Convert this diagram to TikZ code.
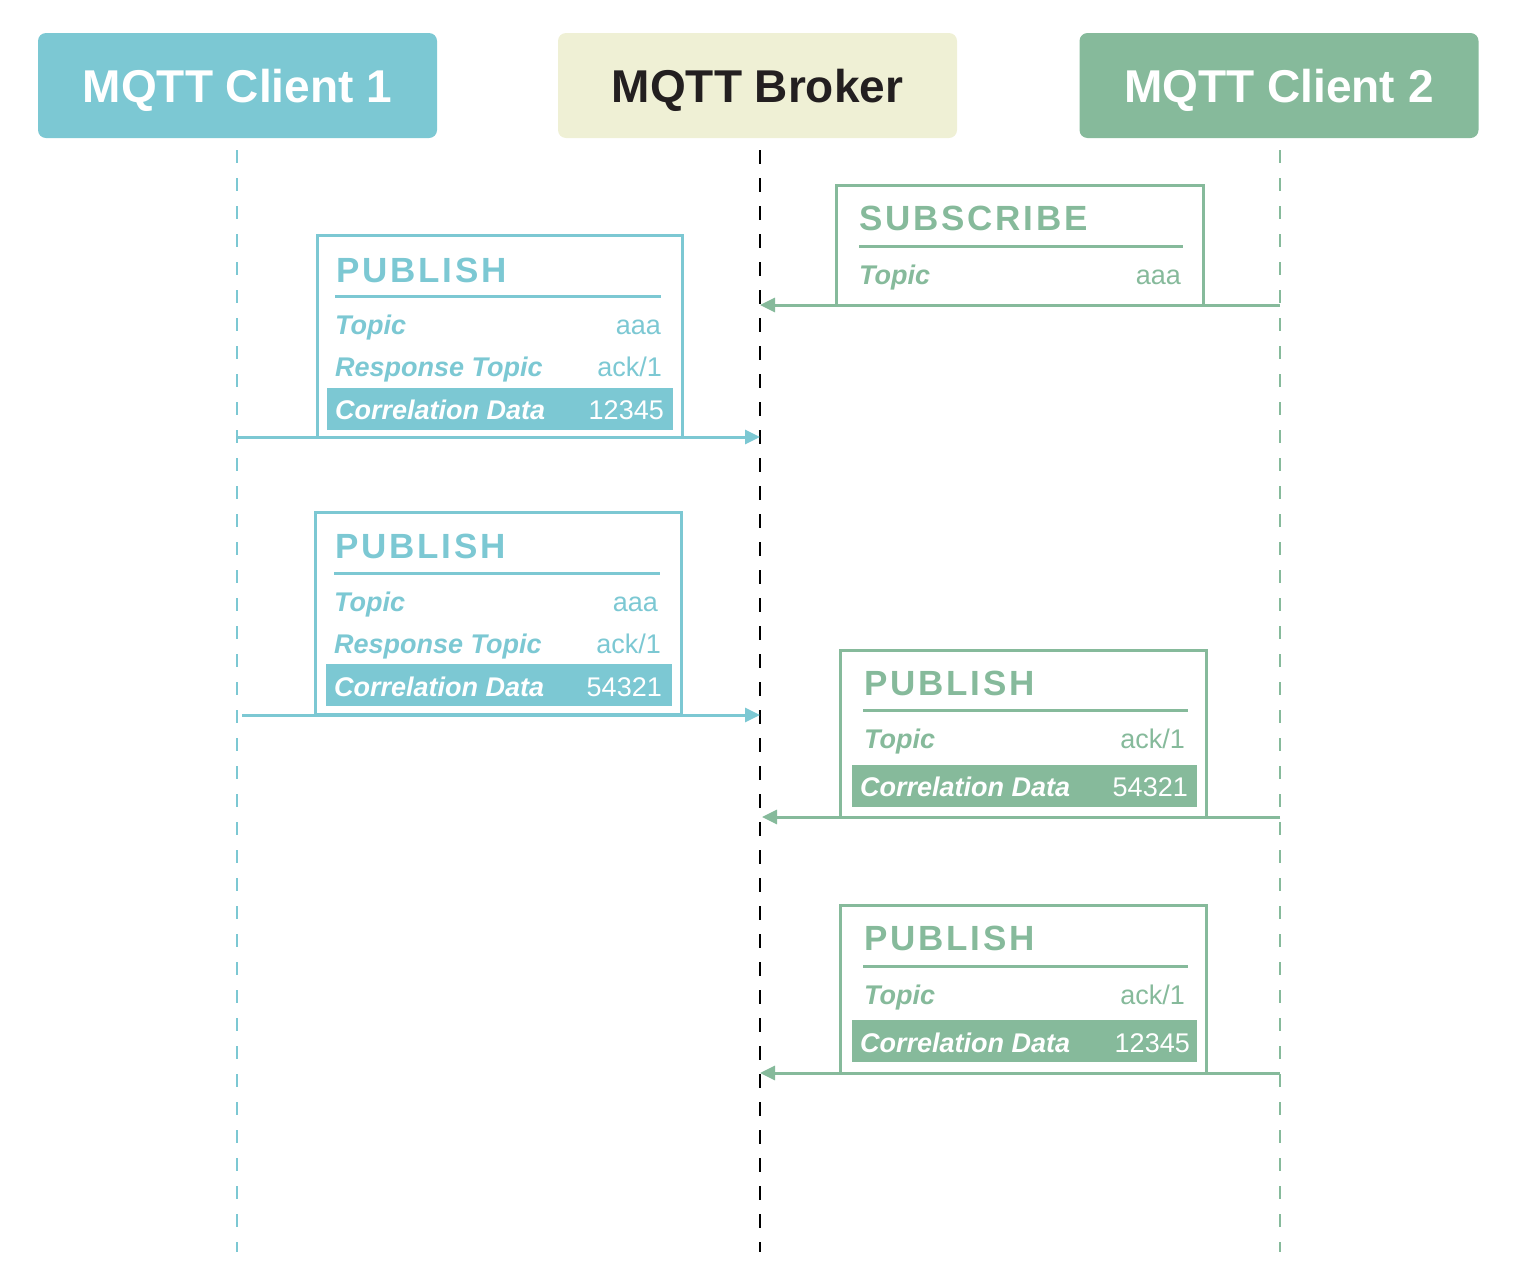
\documentclass[tikz,border=0pt]{standalone}
\usepackage{fontspec}
\setmainfont{Liberation Sans}
\newfontfamily\spacedfont[LetterSpace=8]{Liberation Sans}
\usetikzlibrary{positioning,arrows.meta}

\definecolor{clientone}{HTML}{7CC8D3}
\definecolor{clienttwo}{HTML}{86BA9B}
\definecolor{brokerfill}{HTML}{EFF0D5}
\definecolor{brokertext}{HTML}{231F20}

\tikzset{
  header/.style={rounded corners=8pt, minimum width=399pt, minimum height=105pt,
    inner sep=0pt, text height=33pt, text depth=-6pt, text=white,
    font=\fontsize{46}{50}\selectfont\bfseries},
  lifeline/.style={line width=2pt, dash pattern=on 13pt off 15pt},
  msgbox/.style={draw, line width=3pt},
  msgtitle/.style={anchor=base west, inner sep=0pt, font=\spacedfont\fontsize{35}{40}\selectfont\bfseries},
  field/.style={anchor=base west, inner sep=0pt, font=\fontsize{27}{30}\selectfont\bfseries\itshape},
  value/.style={anchor=base east, inner sep=0pt, font=\fontsize{27}{30}\selectfont},
  msg/.style={line width=3pt, -{Triangle[length=15pt,width=14pt]}},
}

\begin{document}
\begin{tikzpicture}[x=1pt, y=-1pt]
    \useasboundingbox (0,0) rectangle (1520,1275);

    % participants
    \node[header, fill=clientone] (c1) at (237.5,85.5) {MQTT Client 1};
    \node[header, fill=brokerfill, text=brokertext] (br) at (757.5,85.5) {MQTT Broker};
    \node[header, fill=clienttwo] (c2) at (1279,85.5) {MQTT Client 2};

    \coordinate (c1end) at (237,1252);
    \coordinate (brend) at (760,1252);
    \coordinate (c2end) at (1280,1252);
    \draw[lifeline, clientone] (237,150) -- (c1end);
    \draw[lifeline, clienttwo] (1280,150) -- (c2end);
    \draw[line width=2.5pt, dash pattern=on 14pt off 14pt] (760,150) -- (brend);

    % subscribe
    \node[msgbox, clienttwo, minimum width=367pt, minimum height=120pt] (sub) at (1019.5,245) {};
    \node[msgtitle, text=clienttwo] (subtitle) at (859,230) {SUBSCRIBE};
    \draw[clienttwo, line width=3pt] (859,246) -- (1183,246);
    \node[field, text=clienttwo] (subtopic) at (859,284) {Topic};
    \node[value, text=clienttwo] (subtopicv) at (1181,284) {aaa};
    \coordinate (c2a) at (1280,305);
    \coordinate (bra) at (760,305);
    \draw[msg, clienttwo] (c2a) -- (bra);

    % first request
    \node[msgbox, clientone, minimum width=365pt, minimum height=202pt] (pub1) at (499.5,336) {};
    \node[msgtitle, text=clientone] (pub1title) at (336,282) {PUBLISH};
    \draw[clientone, line width=3pt] (335,296) -- (661,296);
    \node[field, text=clientone] (pub1topic) at (335,334) {Topic};
    \node[value, text=clientone] (pub1topicv) at (661,334) {aaa};
    \node[field, text=clientone] (pub1resp) at (335,376) {Response Topic};
    \node[value, text=clientone] (pub1respv) at (662,376) {ack/1};
    \fill[clientone] (327,388) rectangle (673,430);
    \node[field, text=white] (pub1corr) at (335,419) {Correlation Data};
    \node[value, text=white] (pub1corrv) at (664,419) {12345};
    \coordinate (c1b) at (237,437);
    \coordinate (brb) at (760,437);
    \draw[msg, clientone] (c1b) -- (brb);

    % second request
    \node[msgbox, clientone, minimum width=366pt, minimum height=202pt] (pub2) at (498,613) {};
    \node[msgtitle, text=clientone] (pub2title) at (335,558) {PUBLISH};
    \draw[clientone, line width=3pt] (334,573) -- (660,573);
    \node[field, text=clientone] (pub2topic) at (334,611) {Topic};
    \node[value, text=clientone] (pub2topicv) at (658,611) {aaa};
    \node[field, text=clientone] (pub2resp) at (334,653) {Response Topic};
    \node[value, text=clientone] (pub2respv) at (661,653) {ack/1};
    \fill[clientone] (326,664) rectangle (672,706);
    \node[field, text=white] (pub2corr) at (334,696) {Correlation Data};
    \node[value, text=white] (pub2corrv) at (662,696) {54321};
    \coordinate (c1c) at (242,715);
    \coordinate (brc) at (760,715);
    \draw[msg, clientone] (c1c) -- (brc);

    % first response
    \node[msgbox, clienttwo, minimum width=366pt, minimum height=167pt] (pub3) at (1023,733.5) {};
    \node[msgtitle, text=clienttwo] (pub3title) at (864,695) {PUBLISH};
    \draw[clienttwo, line width=3pt] (863,710) -- (1188,710);
    \node[field, text=clienttwo] (pub3topic) at (864,748) {Topic};
    \node[value, text=clienttwo] (pub3topicv) at (1185,748) {ack/1};
    \fill[clienttwo] (852,765) rectangle (1197,807);
    \node[field, text=white] (pub3corr) at (860,796) {Correlation Data};
    \node[value, text=white] (pub3corrv) at (1188,796) {54321};
    \coordinate (c2d) at (1280,817);
    \coordinate (brd) at (762,817);
    \draw[msg, clienttwo] (c2d) -- (brd);

    % second response
    \node[msgbox, clienttwo, minimum width=366pt, minimum height=168pt] (pub4) at (1023,989) {};
    \node[msgtitle, text=clienttwo] (pub4title) at (864,950) {PUBLISH};
    \draw[clienttwo, line width=3pt] (863,966) -- (1188,966);
    \node[field, text=clienttwo] (pub4topic) at (864,1004) {Topic};
    \node[value, text=clienttwo] (pub4topicv) at (1185,1004) {ack/1};
    \fill[clienttwo] (852,1020) rectangle (1197,1062);
    \node[field, text=white] (pub4corr) at (860,1052) {Correlation Data};
    \node[value, text=white] (pub4corrv) at (1190,1052) {12345};
    \coordinate (c2e) at (1280,1073);
    \coordinate (bre) at (760,1073);
    \draw[msg, clienttwo] (c2e) -- (bre);
\end{tikzpicture}
\end{document}
